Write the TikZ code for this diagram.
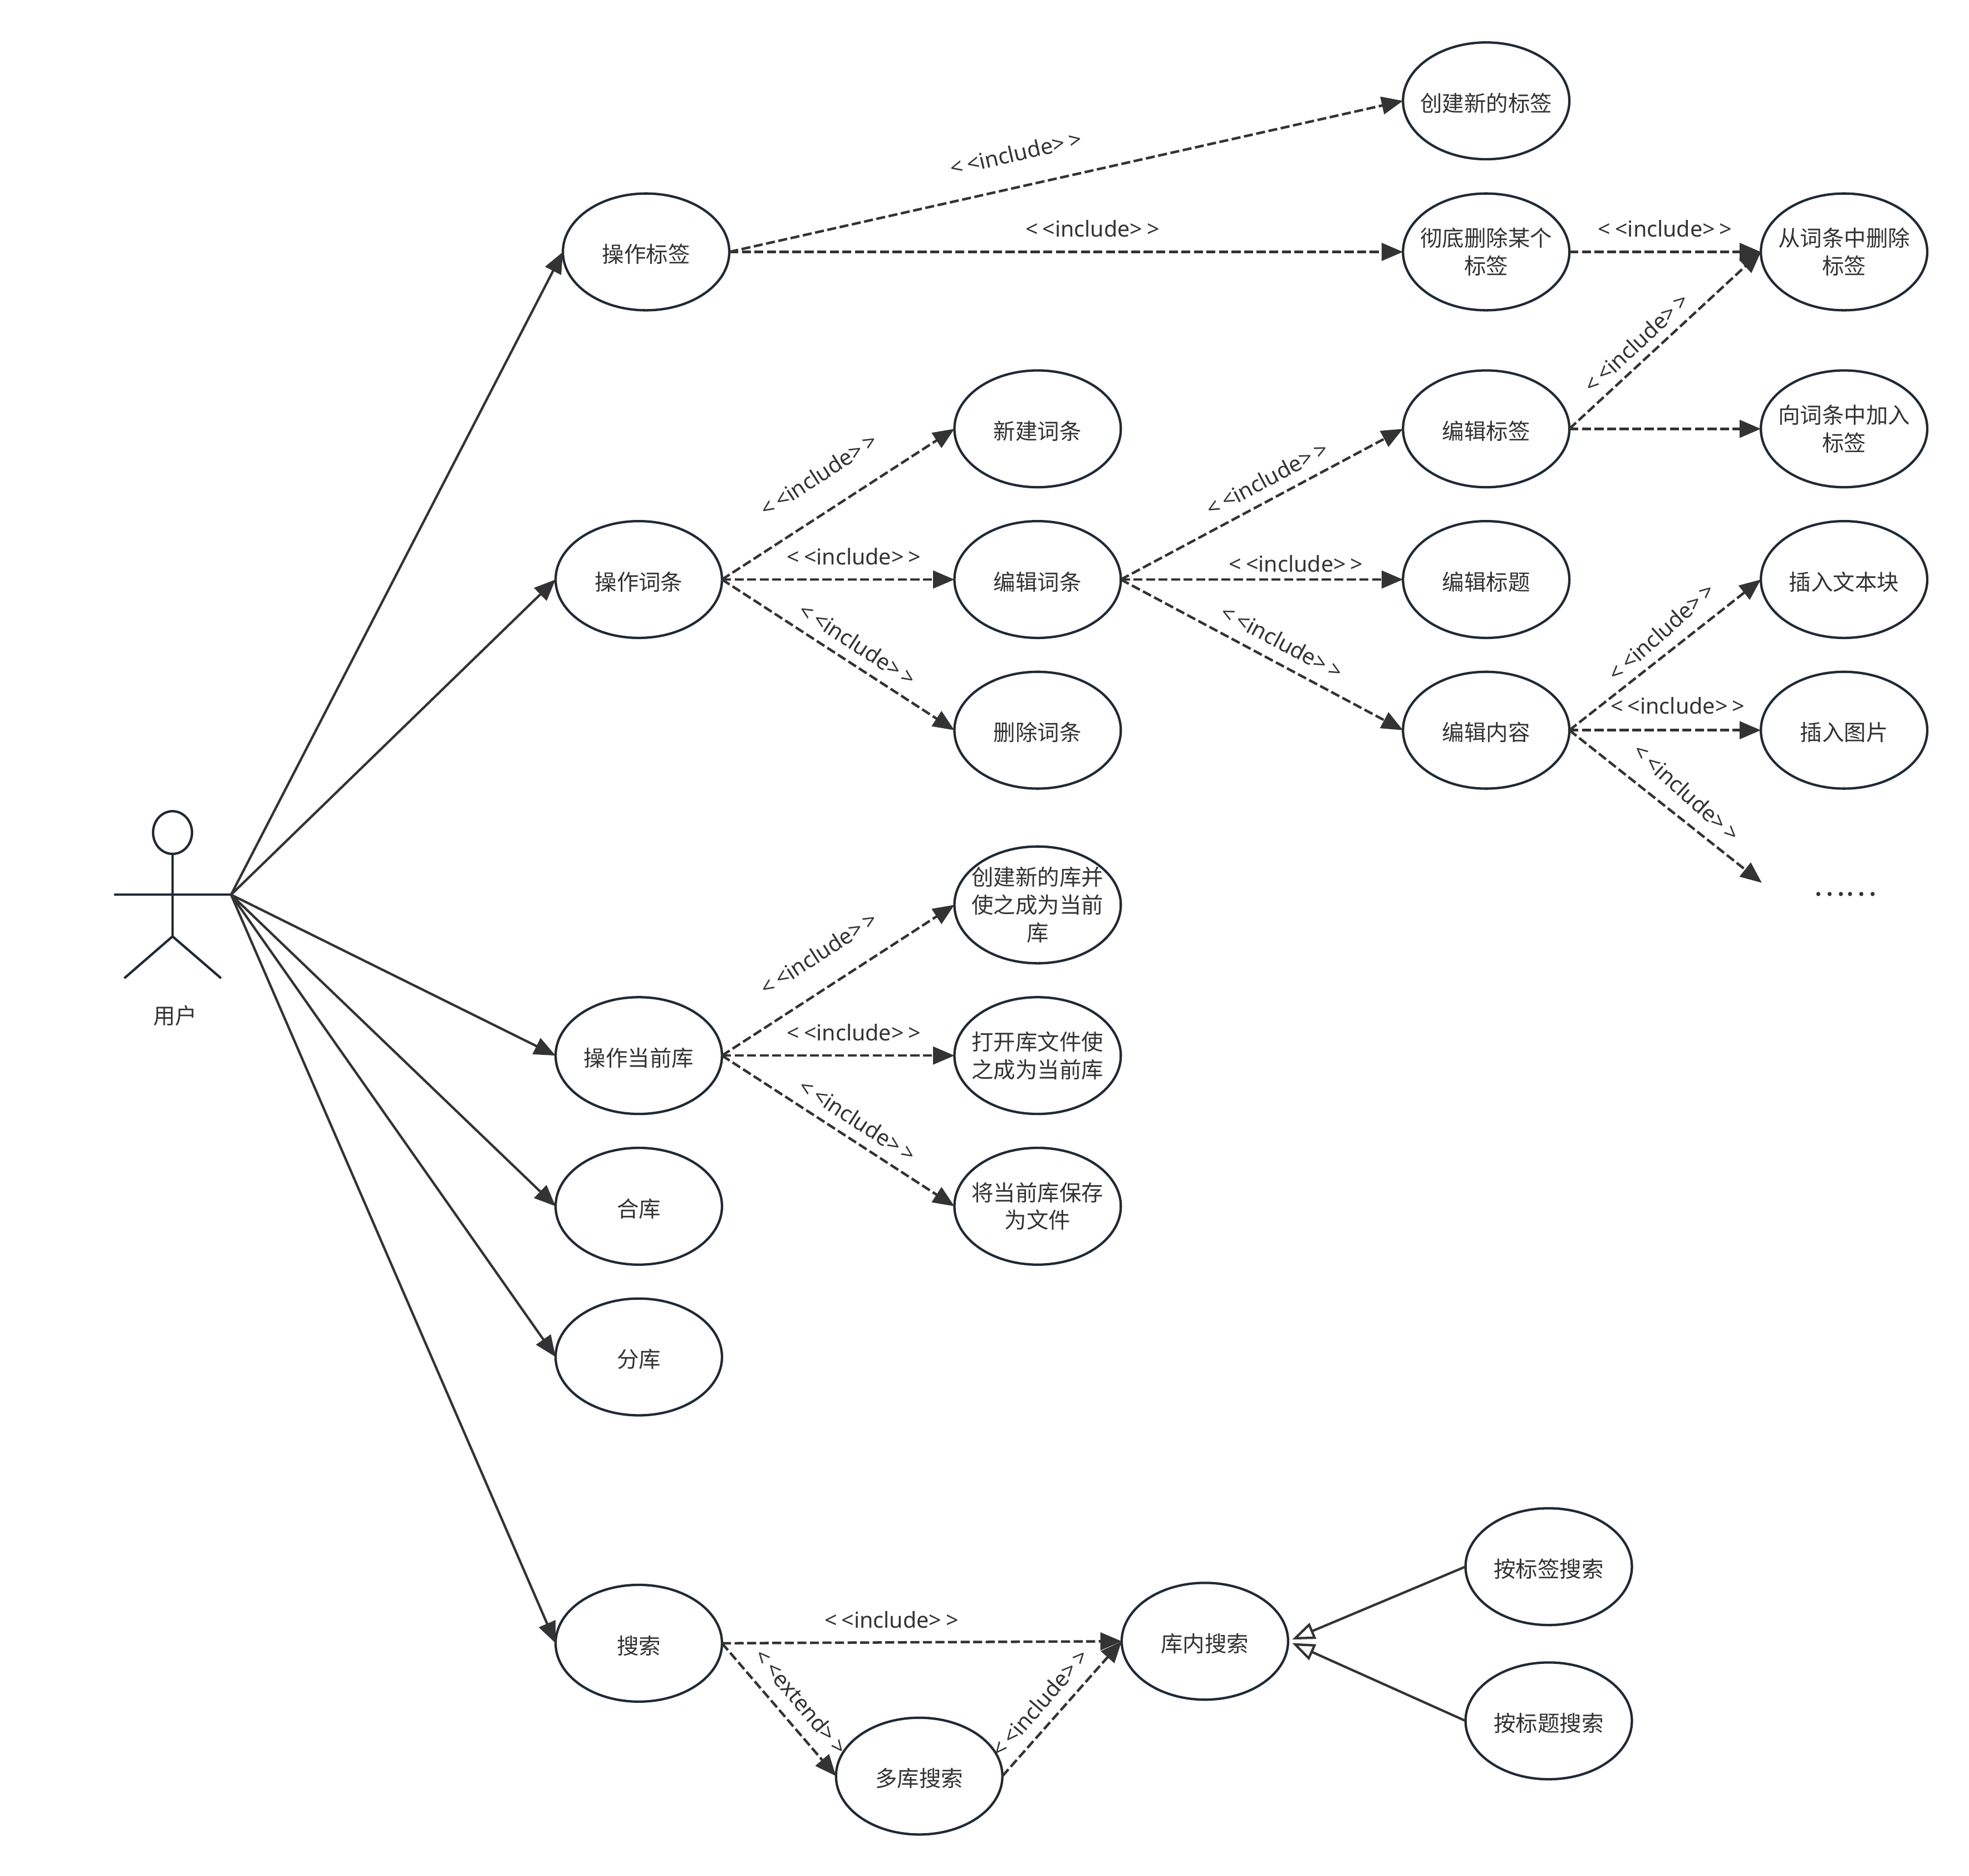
\documentclass[tikz,border=0pt]{standalone}
\usepackage{fontspec}
\setmainfont{Noto Sans CJK SC}
\newfontfamily\latfont{Noto Sans}
\usetikzlibrary{shapes.geometric,arrows.meta}
\definecolor{ln}{HTML}{333333}
\definecolor{edgec}{HTML}{1F2A35}
\newcommand{\incl}{<\kern3.5pt<include>\kern3.5pt>}
\newcommand{\extd}{<\kern3.5pt<extend>\kern3.5pt>}
\tikzset{
  x=1pt,y=-1pt,
  usecase/.style={ellipse,draw=edgec,fill=white,line width=1.9pt,minimum width=132.5pt,minimum height=93pt,
    inner sep=-15pt,outer sep=0pt,align=center,text=ln,font=\fontsize{17.5}{22}\selectfont,
    execute at begin node={\rule{0pt}{18.5pt}}},
  stereo/.style={text=ln,inner sep=0pt,font=\latfont\fontsize{17.5}{21}\selectfont},
  assoc/.style={draw=ln,line width=1.9pt,-{Triangle[length=17pt,width=14pt]}},
  dep/.style={draw=ln,line width=2pt,dash pattern=on 7.2pt off 2.8pt,-{Triangle[length=17pt,width=14pt]}},
  gen/.style={draw=ln,line width=1.9pt,shorten >=3.5pt,-{Triangle[open,length=18pt,width=13.5pt,fill=white]}},
  actorline/.style={draw=edgec,line width=1.9pt},
}
\begin{document}
\begin{tikzpicture}
\useasboundingbox (0,0) rectangle (1568,1493.96);
% stereotype labels (behind the use cases)
\node[stereo,rotate=13] (l1) at (809,122) {\incl};
\node[stereo] (l2) at (870,182) {\incl};
\node[stereo] (l3) at (1326,182) {\incl};
\node[stereo,rotate=43] (l4) at (1303,273) {\incl};
\node[stereo,rotate=33] (l5) at (652,378) {\incl};
\node[stereo] (l6) at (680,443) {\incl};
\node[stereo,rotate=-33] (l7) at (683,513) {\incl};
\node[stereo,rotate=28] (l8) at (1009,381) {\incl};
\node[stereo] (l9) at (1032,449) {\incl};
\node[stereo,rotate=-28] (l10) at (1021,511) {\incl};
\node[stereo,rotate=42] (l11) at (1323,503) {\incl};
\node[stereo] (l12) at (1336,562) {\incl};
\node[stereo,rotate=-42] (l13) at (1343,631) {\incl};
\node[stereo,rotate=33] (l14) at (652,759) {\incl};
\node[stereo] (l15) at (680,822) {\incl};
\node[stereo,rotate=-33] (l16) at (683,892) {\incl};
\node[stereo] (l17) at (710,1290) {\incl};
\node[stereo,rotate=-50] (l18) at (638,1355) {\extd};
\node[stereo,rotate=49] (l19) at (828,1356) {\incl};
% use cases
\node[usecase] (tag) at (514.5,200.6) {操作标签};
\node[usecase] (newtag) at (1183.5,80.3) {创建新的标签};
\node[usecase] (deltag) at (1183.5,200.6) {彻底删除某个\\标签};
\node[usecase] (rmtag) at (1468.5,200.6) {从词条中删除\\标签};
\node[usecase] (edittag) at (1183.5,341.5) {编辑标签};
\node[usecase] (addtag) at (1468.5,341.5) {向词条中加入\\标签};
\node[usecase] (newentry) at (826.3,341.5) {新建词条};
\node[usecase] (entry) at (508.7,461.5) {操作词条};
\node[usecase] (editentry) at (826.3,461.5) {编辑词条};
\node[usecase] (edittitle) at (1183.5,461.5) {编辑标题};
\node[usecase] (instext) at (1468.5,461.5) {插入文本块};
\node[usecase] (delentry) at (826.3,581.5) {删除词条};
\node[usecase] (editcontent) at (1183.5,581.5) {编辑内容};
\node[usecase] (insimg) at (1468.5,581.5) {插入图片};
\node[usecase] (newlib) at (826.3,720.6) {创建新的库并\\使之成为当前\\库};
\node[usecase] (curlib) at (508.7,840.6) {操作当前库};
\node[usecase] (openlib) at (826.3,840.6) {打开库文件使\\之成为当前库};
\node[usecase] (savelib) at (826.3,960.6) {将当前库保存\\为文件};
\node[usecase] (merge) at (508.7,960.6) {合库};
\node[usecase] (split) at (508.7,1080.6) {分库};
\node[usecase] (search) at (508.7,1308.6) {搜索};
\node[usecase] (inner) at (959.5,1307) {库内搜索};
\node[usecase] (multi) at (732,1414.4) {多库搜索};
\node[usecase] (bytag) at (1233.3,1247.6) {按标签搜索};
\node[usecase] (bytitle) at (1233.3,1370.4) {按标题搜索};
\node[text=ln,inner sep=0pt,font=\fontsize{24}{24}\selectfont] (more) at (1469.5,712) {……};
\coordinate (moreend) at (1403,703);
% actor
\node[ellipse,draw=edgec,line width=1.9pt,minimum width=31pt,minimum height=34pt,inner sep=0pt,outer sep=0pt] (head) at (137.4,663) {};
\coordinate (hand) at (184,712.5);
\coordinate (lefthand) at (91,712.5);
\coordinate (hip) at (137.4,745.7);
\coordinate (lfoot) at (99,779);
\coordinate (rfoot) at (176,779);
\draw[actorline] (lefthand) -- (hand);
\draw[actorline] (head.south) -- (hip);
\draw[actorline] (lfoot) -- (hip) -- (rfoot);
\node[text=ln,inner sep=0pt,font=\fontsize{17.5}{20}\selectfont] (user) at (139.5,809) {用户};
% associations
\draw[assoc] (hand) -- (tag.west);
\draw[assoc] (hand) -- (entry.west);
\draw[assoc] (hand) -- (curlib.west);
\draw[assoc] (hand) -- (merge.west);
\draw[assoc] (hand) -- (split.west);
\draw[assoc] (hand) -- (search.west);
% dependencies
\draw[dep] (tag.east) -- (newtag.west);
\draw[dep] (tag.east) -- (deltag.west);
\draw[dep] (deltag.east) -- (rmtag.west);
\draw[dep] (edittag.east) -- (rmtag.west);
\draw[dep] (edittag.east) -- (addtag.west);
\draw[dep] (entry.east) -- (newentry.west);
\draw[dep] (entry.east) -- (editentry.west);
\draw[dep] (entry.east) -- (delentry.west);
\draw[dep] (editentry.east) -- (edittag.west);
\draw[dep] (editentry.east) -- (edittitle.west);
\draw[dep] (editentry.east) -- (editcontent.west);
\draw[dep] (editcontent.east) -- (instext.west);
\draw[dep] (editcontent.east) -- (insimg.west);
\draw[dep] (editcontent.east) -- (moreend);
\draw[dep] (curlib.east) -- (newlib.west);
\draw[dep] (curlib.east) -- (openlib.west);
\draw[dep] (curlib.east) -- (savelib.west);
\draw[dep] (search.east) -- (inner.west);
\draw[dep] (search.east) -- (multi.west);
\draw[dep] (multi.east) -- (inner.west);
% generalisations
\draw[gen] (bytag.west) -- (inner.east);
\draw[gen] (bytitle.west) -- (inner.east);
\end{tikzpicture}
\end{document}
